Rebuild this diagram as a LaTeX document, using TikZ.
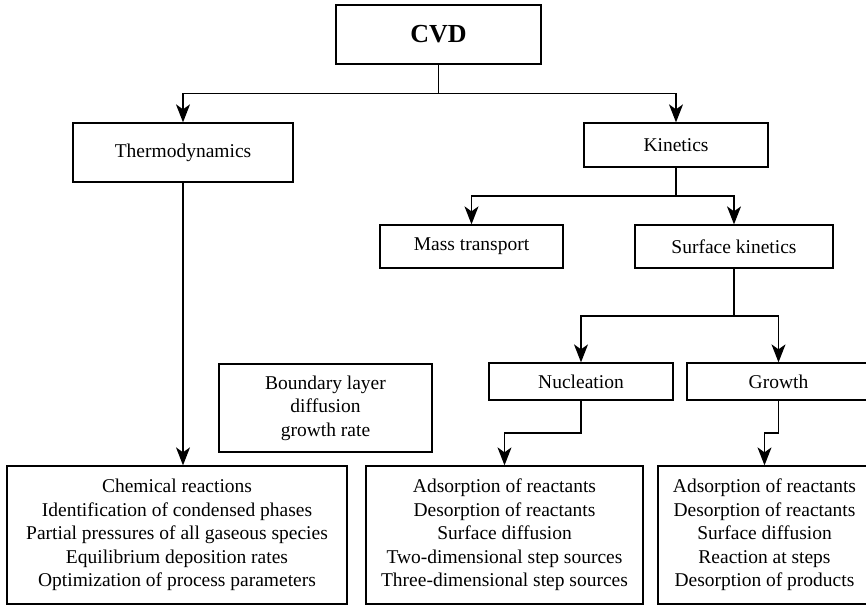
\documentclass[tikz,border=0pt]{standalone}
\usepackage{fontspec}
\setmainfont{Liberation Serif}
\usetikzlibrary{arrows.meta}
\begin{document}
\begin{tikzpicture}[x=1pt,y=-1pt,
  box/.style={draw, line width=1.3pt, inner sep=0pt, align=center,
    font=\fontsize{19.5}{23.5}\selectfont},
  mainbox/.style={draw, line width=2.2pt, inner sep=0pt,
    font=\fontsize{26}{30}\selectfont\bfseries},
  link/.style={line width=1.3pt, -{Stealth[length=18pt,width=14pt,inset=5pt]}},
  plain/.style={line width=1.3pt}]
\useasboundingbox (0,0) rectangle (866,605);
\clip (0,0) rectangle (866,605);

% top level
\node[mainbox, minimum width=205pt, minimum height=59pt] (cvd) at (438.5,34.5) {CVD};

% second level
\node[box, minimum width=220pt, minimum height=59pt] (thermo) at (183,152.5) {Thermodynamics};
\node[box, minimum width=184pt, minimum height=44pt] (kin) at (676,145) {Kinetics};

% kinetics branches
\node[box, minimum width=183pt, minimum height=43pt] (mass) at (471.5,246.5) {Mass transport};
\node[box, minimum width=198pt, minimum height=43pt] (surf) at (734,246.5) {Surface kinetics};

% surface kinetics branches
\node[box, minimum width=184pt, minimum height=37pt] (nuc) at (581,381.5) {Nucleation};
\node[box, minimum width=183pt, minimum height=37pt] (gro) at (778.5,381.5) {Growth};

% mass transport note
\node[box, minimum width=213pt, minimum height=88pt] (blr) at (325.5,408)
  {Boundary layer\\diffusion\\growth rate};

% lists at the bottom
\node[box, minimum width=340pt, minimum height=138pt] (chem) at (177,535)
  {Chemical reactions\\Identification of condensed phases\\Partial pressures of all gaseous species\\Equilibrium deposition rates\\Optimization of process parameters};
\node[box, minimum width=277pt, minimum height=138pt] (nlist) at (504.5,535)
  {Adsorption of reactants\\Desorption of reactants\\Surface diffusion\\Two-dimensional step sources\\Three-dimensional step sources};
\node[box, minimum width=213pt, minimum height=138pt] (glist) at (764.5,535)
  {Adsorption of reactants\\Desorption of reactants\\Surface diffusion\\Reaction at steps\\Desorption of products};

% junction points
\coordinate (cvdjoin) at (438.5,93.5);
\coordinate (kinjoin) at (676,196);
\coordinate (surfjoin) at (734,316);
\coordinate (nucbend) at (504.5,433);
\coordinate (grobend) at (764.5,433);

% connectors
\draw[plain] (cvd.south) -- (cvdjoin);
\draw[link] (cvdjoin) -| (thermo.north);
\draw[link] (cvdjoin) -| (kin.north);

\draw[plain] (kin.south) -- (kinjoin);
\draw[link] (kinjoin) -| (mass.north);
\draw[link] (kinjoin) -| (surf.north);

\draw[plain] (surf.south) -- (surfjoin);
\draw[link] (surfjoin) -| (nuc.north);
\draw[link] (surfjoin) -| (gro.north);

\draw[link] (thermo.south) -- (thermo.south |- chem.north);

\draw[link] (nuc.south) |- (nucbend) -- (nlist.north);
\draw[link] (gro.south) |- (grobend) -- (glist.north);
\end{tikzpicture}
\end{document}
